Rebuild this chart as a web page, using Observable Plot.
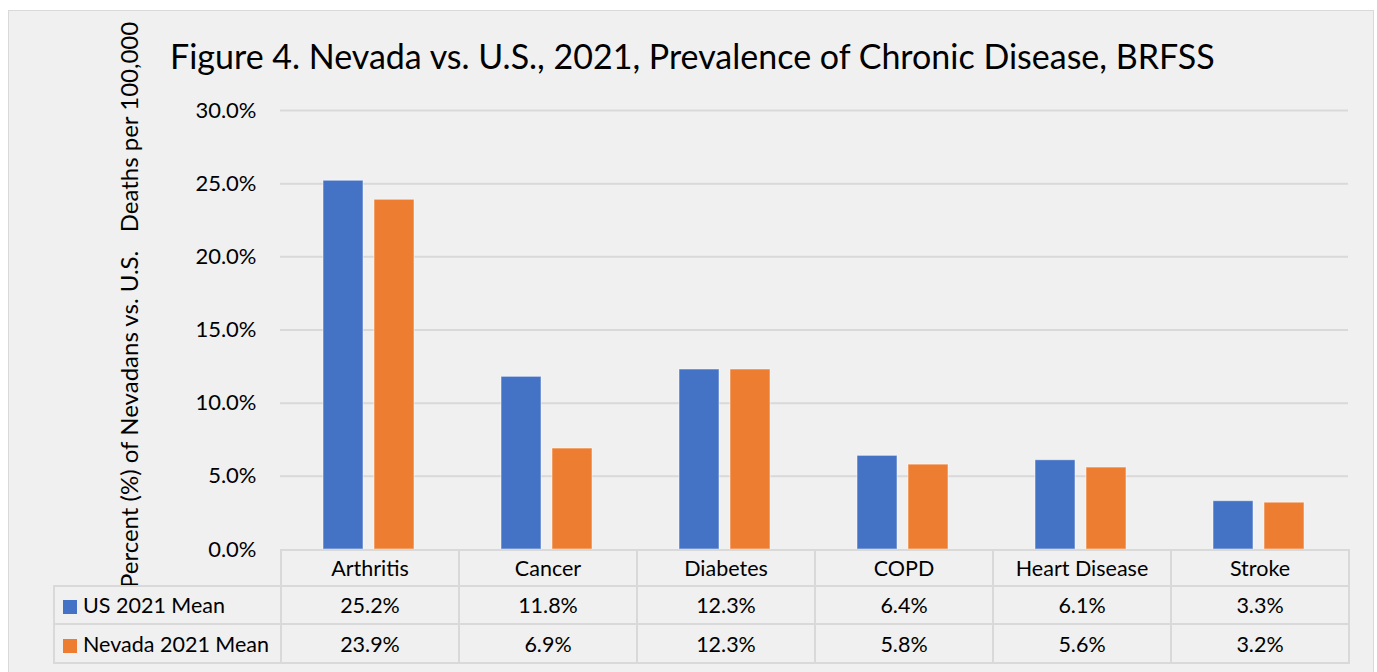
<!DOCTYPE html>
<html>
<head>
<meta charset="utf-8">
<script src="https://cdn.jsdelivr.net/npm/d3@7"></script>
<script src="https://cdn.jsdelivr.net/npm/@observablehq/plot@0.6"></script>
<style>
  html, body { margin: 0; padding: 0; background: #ffffff; width: 1377px; height: 672px; overflow: hidden; }
  body { position: relative; font-family: Lato, "Open Sans", sans-serif; color: #000; }
  #box { position: absolute; left: 8px; top: 10px; width: 1366px; height: 700px; background: #f0f0f0; border: 1.5px solid #d9d9d9; box-sizing: border-box; }
  #chart { position: absolute; left: 0; top: 0; }
  #title { position: absolute; left: 170px; top: 33px; font-size: 34px; white-space: nowrap; line-height: 46px; }
  #ylabel { position: absolute; left: 114px; top: 588px; transform-origin: 0 0; transform: rotate(-90deg); font-size: 24px; line-height: 30px; white-space: pre; }
  #table { position: absolute; left: 53px; top: 549px; border-collapse: collapse; font-size: 21.5px; table-layout: fixed; }
  #table td { border: 2px solid #d9d9d9; text-align: center; padding: 0; white-space: nowrap; }
  #table td.empty { border: none; border-bottom: 2px solid #d9d9d9; border-right: 2px solid #d9d9d9; }
  #table td.leg { text-align: left; padding-left: 8px; }
  .sw { display: inline-block; width: 14px; height: 14px; margin-right: 6px; vertical-align: -1px; }
</style>
</head>
<body>
<div id="box"></div>
<div id="chart"></div>
<div id="title"></div>
<div id="ylabel"></div>
<table id="table"></table>
<script>
const categories = ["Arthritis", "Cancer", "Diabetes", "COPD", "Heart Disease", "Stroke"];
const seriesNames = ["US 2021 Mean", "Nevada 2021 Mean"];
const seriesColors = ["#4472c4", "#ed7d31"];
const usValues = [25.2, 11.8, 12.3, 6.4, 6.1, 3.3];
const nevadaValues = [23.9, 6.9, 12.3, 5.8, 5.6, 3.2];
const yTicks = [0, 5, 10, 15, 20, 25, 30];
const titleText = "Figure 4. Nevada vs. U.S., 2021, Prevalence of Chronic Disease, BRFSS";
const yLabelText = "Percent (%) of Nevadans vs. U.S.   Deaths per 100,000";

const seriesValues = [usValues, nevadaValues];
const data = [];
categories.forEach((c, i) => {
  seriesNames.forEach((s, j) => data.push({category: c, series: s, value: seriesValues[j][i]}));
});

const W = 1377, marginLeft = 280, marginRight = 29;
const plot = Plot.plot({
  width: W,
  height: 580,
  marginLeft,
  marginRight,
  marginTop: 110,
  marginBottom: 31,
  style: {background: "transparent", fontSize: "22px", fontFamily: "Lato, 'Open Sans', sans-serif", color: "#000"},
  fx: {domain: categories, padding: 0, axis: null},
  x: {domain: seriesNames, paddingInner: 0.21, paddingOuter: 0.82, axis: null},
  y: {domain: [0, 30], ticks: yTicks, tickFormat: d => d.toFixed(1) + "%", tickSize: 0, tickPadding: 24, label: null},
  color: {domain: seriesNames, range: seriesColors},
  marks: [
    Plot.gridY(yTicks.filter(t => t > 0), {stroke: "#d9d9d9", strokeOpacity: 1, strokeWidth: 2}),
    Plot.axisY({ticks: yTicks, tickFormat: d => d.toFixed(1) + "%", tickSize: 0, tickPadding: 24, label: null, fontSize: 22, facetAnchor: "left"}),
    Plot.barY(data, {fx: "category", x: "series", y: "value", fill: "series", stroke: "#ffffff", strokeOpacity: 0.5, strokeWidth: 1})
  ]
});
document.getElementById("chart").appendChild(plot);
document.getElementById("title").textContent = titleText;
document.getElementById("ylabel").textContent = yLabelText;

// data table aligned with fx scale
const step = (W - marginLeft - marginRight) / categories.length;
const table = document.getElementById("table");
const colgroup = document.createElement("colgroup");
const c0 = document.createElement("col"); c0.style.width = (marginLeft - 53) + "px"; colgroup.appendChild(c0);
categories.forEach(() => { const c = document.createElement("col"); c.style.width = step + "px"; colgroup.appendChild(c); });
table.appendChild(colgroup);
const hr = document.createElement("tr"); hr.style.height = "36px";
const e = document.createElement("td"); e.className = "empty"; hr.appendChild(e);
categories.forEach(c => { const td = document.createElement("td"); td.textContent = c; hr.appendChild(td); });
table.appendChild(hr);
seriesNames.forEach((s, j) => {
  const tr = document.createElement("tr"); tr.style.height = (j === 0 ? 38 : 39) + "px";
  const td0 = document.createElement("td"); td0.className = "leg";
  const sw = document.createElement("span"); sw.className = "sw"; sw.style.background = seriesColors[j];
  td0.appendChild(sw); td0.appendChild(document.createTextNode(s)); tr.appendChild(td0);
  seriesValues[j].forEach(v => { const td = document.createElement("td"); td.textContent = v.toFixed(1) + "%"; tr.appendChild(td); });
  table.appendChild(tr);
});
</script>
</body>
</html>
